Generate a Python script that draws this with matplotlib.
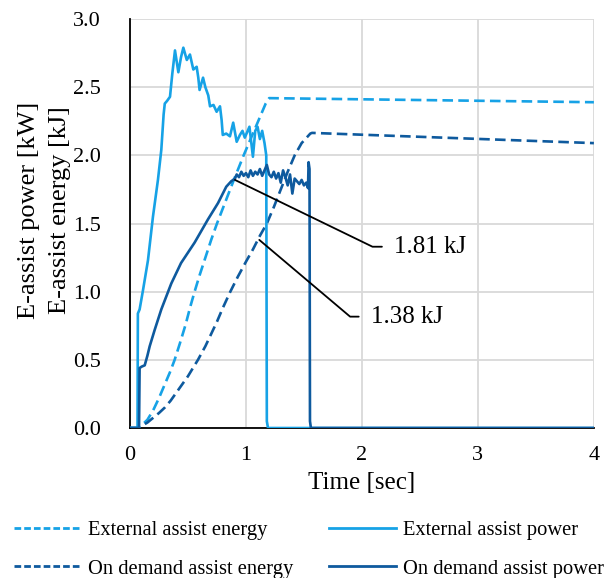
import matplotlib
matplotlib.use("Agg")
import matplotlib.pyplot as plt
from matplotlib.lines import Line2D

plt.rcParams['font.family'] = ['Liberation Serif', 'DejaVu Serif']

LIGHT = "#16A2E6"
DARK = "#0E5A9E"

# External assist power [kW]
ext_p_t = [0, 0.065, 0.068, 0.083, 0.112, 0.155, 0.198, 0.241, 0.27, 0.29, 0.30, 0.32, 0.345, 0.365,
           0.388, 0.417, 0.44, 0.46, 0.49, 0.517, 0.546, 0.575, 0.589, 0.60, 0.63, 0.65, 0.675, 0.69,
           0.72, 0.747, 0.776, 0.79, 0.80, 0.83, 0.862, 0.89, 0.92, 0.948, 0.97, 0.99, 1.01, 1.03,
           1.06, 1.08, 1.10, 1.12, 1.14, 1.16, 1.175, 1.18, 1.19, 1.25, 4.0]
ext_p = [0, 0, 0.84, 0.87, 1.01, 1.23, 1.55, 1.82, 2.04, 2.30, 2.38, 2.40, 2.43, 2.60,
         2.77, 2.61, 2.72, 2.79, 2.70, 2.74, 2.63, 2.65, 2.57, 2.48, 2.57, 2.50, 2.44, 2.36,
         2.37, 2.32, 2.36, 2.26, 2.15, 2.16, 2.14, 2.24, 2.10, 2.15, 2.18, 2.13, 2.17, 2.21,
         1.99, 2.18, 2.21, 2.12, 2.18, 2.09, 2.00, 0.05, 0.0, 0.0, 0.0]

# On demand assist power [kW]
dem_p_t = [0, 0.078, 0.083, 0.10, 0.127, 0.15, 0.17, 0.213, 0.27, 0.356, 0.44, 0.557, 0.672,
           0.759, 0.83, 0.873, 0.905, 0.92, 0.94, 0.96, 0.98, 1.00, 1.02, 1.04, 1.06, 1.08, 1.10,
           1.12, 1.14, 1.16, 1.18, 1.20, 1.22, 1.24, 1.26, 1.28, 1.30, 1.32, 1.34, 1.36, 1.38, 1.40,
           1.42, 1.44, 1.46, 1.48, 1.50, 1.52, 1.535, 1.54, 1.548, 1.552, 1.56, 1.62, 4.0]
dem_p = [0, 0, 0.44, 0.45, 0.46, 0.53, 0.60, 0.72, 0.87, 1.06, 1.21, 1.36, 1.53,
         1.65, 1.77, 1.81, 1.83, 1.86, 1.84, 1.88, 1.85, 1.87, 1.84, 1.89, 1.85, 1.88, 1.86,
         1.90, 1.85, 1.89, 1.93, 1.86, 1.84, 1.88, 1.83, 1.87, 1.80, 1.89, 1.84, 1.78, 1.86, 1.72,
         1.83, 1.81, 1.79, 1.82, 1.78, 1.80, 1.76, 1.95, 1.90, 0.05, 0.0, 0.0, 0.0]

# External assist energy [kJ]
ext_e_t = [0, 0.06, 0.10, 0.15, 0.20, 0.25, 0.30, 0.345, 0.385, 0.43, 0.48, 0.52, 0.557, 0.60,
           0.65, 0.70, 0.75, 0.80, 0.85, 0.90, 0.98, 1.05, 1.12, 1.17, 1.20, 4.0]
ext_e = [0, 0, 0.02, 0.06, 0.13, 0.22, 0.32, 0.41, 0.50, 0.62, 0.76, 0.89, 1.00, 1.12,
         1.25, 1.38, 1.50, 1.61, 1.72, 1.83, 2.00, 2.14, 2.28, 2.38, 2.42, 2.39]

# On demand assist energy [kJ]
dem_e_t = [0, 0.06, 0.10, 0.15, 0.20, 0.25, 0.30, 0.35, 0.40, 0.45, 0.50, 0.55, 0.586, 0.65,
           0.70, 0.75, 0.80, 0.865, 0.93, 1.00, 1.06, 1.12, 1.18, 1.24, 1.30, 1.36, 1.42, 1.48,
           1.555, 1.57, 4.0]
dem_e = [0, 0, 0.015, 0.04, 0.075, 0.11, 0.15, 0.20, 0.26, 0.32, 0.38, 0.45, 0.50, 0.60,
         0.69, 0.78, 0.88, 1.00, 1.11, 1.22, 1.31, 1.41, 1.50, 1.62, 1.75, 1.88, 2.00, 2.09,
         2.16, 2.165, 2.09]

x_ticks = [0, 1, 2, 3, 4]
y_ticks = [0.0, 0.5, 1.0, 1.5, 2.0, 2.5, 3.0]

fig = plt.figure(figsize=(6.06, 5.78), dpi=100)
ax = fig.add_axes([0.2145, 0.2595, 0.7655, 0.7075])

lw = 1.9
ax.plot(ext_e_t, ext_e, color=LIGHT, lw=lw, dashes=(4, 2), zorder=3)
ax.plot(dem_e_t, dem_e, color=DARK, lw=lw, dashes=(4, 2), zorder=3)
ax.plot(ext_p_t, ext_p, color=LIGHT, lw=lw, zorder=4)
ax.plot(dem_p_t, dem_p, color=DARK, lw=lw, zorder=5)

ax.set_xlim(0, 4)
ax.set_ylim(0, 3.0)
ax.set_xticks(x_ticks)
ax.set_xticklabels([str(v) for v in x_ticks])
ax.set_yticks(y_ticks)
ax.set_yticklabels([f"{v:.1f}" for v in y_ticks])
ax.grid(True, color="#d9d9d9", lw=1.3)
ax.set_axisbelow(True)
for s in ["top", "right"]:
    ax.spines[s].set_visible(False)
for s in ["left", "bottom"]:
    ax.spines[s].set_color("black")
    ax.spines[s].set_linewidth(1.3)
ax.tick_params(axis='both', length=0, labelsize=16)
ax.tick_params(axis='y', pad=21)
ax.tick_params(axis='x', pad=13)

ax.set_xlabel("Time [sec]", fontsize=18, labelpad=5)
ax.set_ylabel("E-assist power [kW]\nE-assist energy [kJ]", fontsize=19, linespacing=1.5)
ax.yaxis.set_label_coords(-0.128, 0.533)

ax.annotate("1.81 kJ", xy=(0.905, 1.82), xytext=(2.28, 1.33), fontsize=18, va='center', ha='left',
            arrowprops=dict(arrowstyle='-', color='black', lw=1.3, shrinkA=7, shrinkB=0,
                            connectionstyle='angle,angleA=0,angleB=-25.9,rad=0'), zorder=6)
ax.annotate("1.38 kJ", xy=(1.115, 1.38), xytext=(2.08, 0.817), fontsize=18, va='center', ha='left',
            arrowprops=dict(arrowstyle='-', color='black', lw=1.3, shrinkA=7, shrinkB=0,
                            connectionstyle='angle,angleA=0,angleB=-40.2,rad=0'), zorder=6)

handles = [
    Line2D([], [], color=LIGHT, lw=2, dashes=(2.4, 1.1)),
    Line2D([], [], color=DARK, lw=2, dashes=(2.4, 1.1)),
    Line2D([], [], color=LIGHT, lw=2),
    Line2D([], [], color=DARK, lw=2),
]
labels = ["External assist energy", "On demand assist energy",
          "External assist power", "On demand assist power"]
fig.legend(handles, labels, ncol=2, loc='center', bbox_to_anchor=(309 / 606, (578 - 549.5) / 578),
           frameon=False, fontsize=14.8, handlelength=3.24, handletextpad=0.34,
           columnspacing=1.74, labelspacing=0.95, borderpad=0.2)

fig.savefig("out.png", dpi=100)
